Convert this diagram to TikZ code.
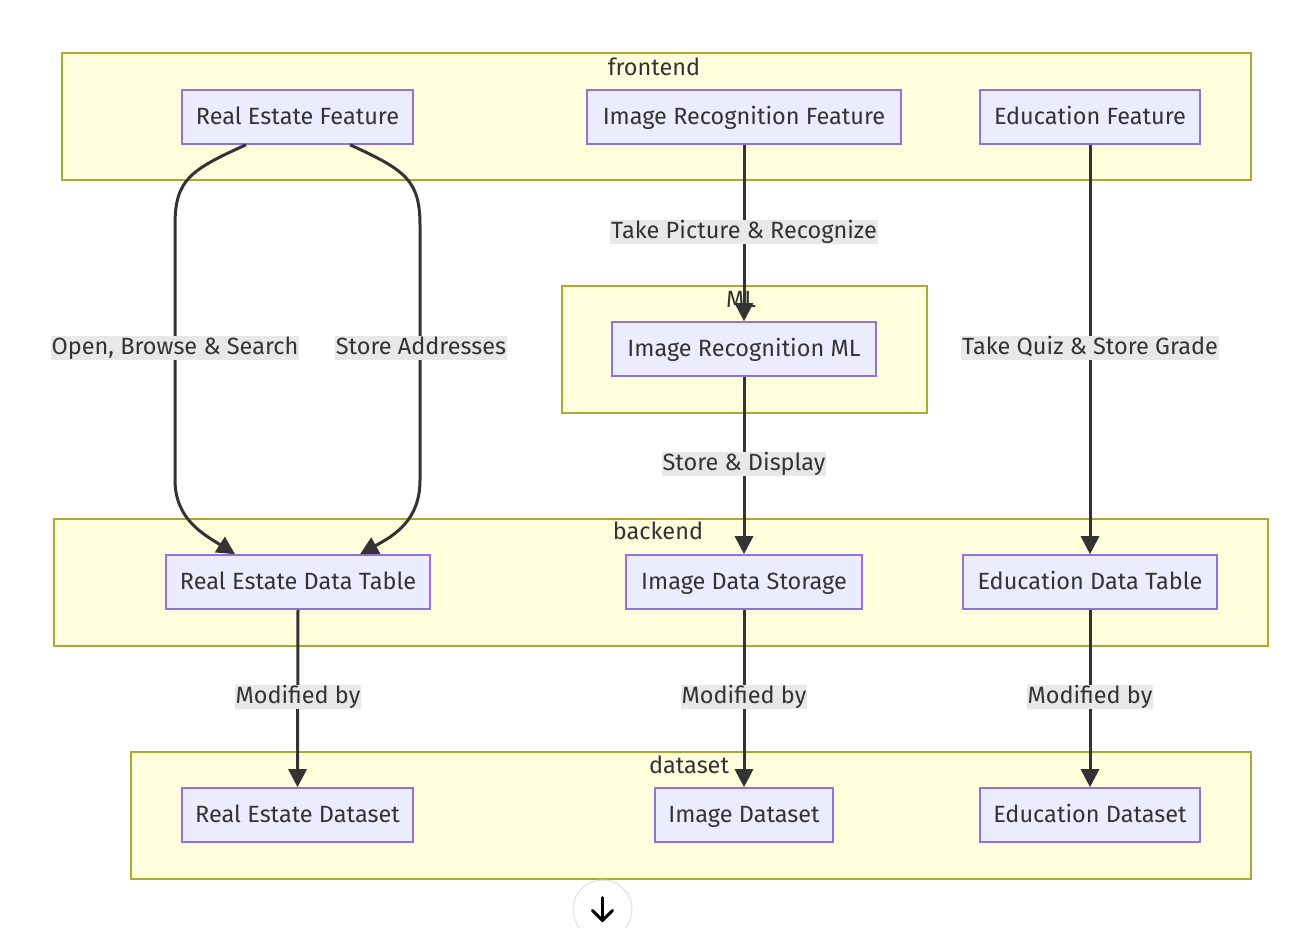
\documentclass[tikz,border=0pt]{standalone}
\usepackage{fontspec}
\setmainfont{Fira Sans}
\usetikzlibrary{arrows.meta,calc}
\definecolor{clfill}{HTML}{FFFFDE}
\definecolor{clline}{HTML}{AAAA33}
\definecolor{ndfill}{HTML}{ECECFF}
\definecolor{ndline}{HTML}{9370DB}
\definecolor{txt}{HTML}{333333}
\definecolor{lbbg}{HTML}{E8E8E8}
\tikzset{
  x=1pt, y=-1pt,
  fnt/.style={font=\fontsize{23.5}{27}\selectfont},
  cluster/.style={draw=clline, fill=clfill, line width=1.6pt},
  clabel/.style={text=txt, fnt, inner sep=0pt, text height=18pt, text depth=3pt},
  box/.style={draw=ndline, fill=ndfill, line width=1.6pt, text=txt, fnt, minimum height=54pt, inner sep=0pt, text height=18pt, text depth=3pt},
  elabel/.style={fill=lbbg, text=txt, fnt, inner xsep=1pt, inner ysep=0pt, text height=18pt, text depth=6pt},
  edge/.style={draw=txt, line width=3pt, -{Triangle[length=18pt,width=18pt]}},
}
\begin{document}
\begin{tikzpicture}
\useasboundingbox (0,0) rectangle (1300,928);
% clusters
\draw[cluster] (62,53) rectangle (1251,180);
\node[clabel] (cfront) at (654,68) {frontend};
\draw[cluster] (562,286) rectangle (927,413);
\node[clabel] (cml) at (741,300) {ML};
\draw[cluster] (54,519) rectangle (1268,646);
\node[clabel] (cback) at (658,532) {backend};
\draw[cluster] (131,752) rectangle (1251,879);
\node[clabel] (cdata) at (689,766) {dataset};
% nodes
\node[box, minimum width=231pt] (ref) at (297.5,117) {Real Estate Feature};
\node[box, minimum width=314pt] (irf) at (744,117) {Image Recognition Feature};
\node[box, minimum width=220pt] (edf) at (1090,117) {Education Feature};
\node[box, minimum width=264pt] (irml) at (744,349) {Image Recognition ML};
\node[box, minimum width=264pt] (redt) at (298,582) {Real Estate Data Table};
\node[box, minimum width=236pt] (ids) at (744,582) {Image Data Storage};
\node[box, minimum width=254pt] (eddt) at (1090,582) {Education Data Table};
\node[box, minimum width=231pt] (reds) at (297.5,815) {Real Estate Dataset};
\node[box, minimum width=178pt] (imds) at (744,815) {Image Dataset};
\node[box, minimum width=220pt] (edds) at (1090,815) {Education Dataset};
% edges
\draw[edge] ([xshift=-51.5pt]ref.south) .. controls (190,170) and (175,180) .. (175,225)
  -- (175,480) .. controls (175,520) and (205,535) .. ([xshift=-63pt]redt.north);
\draw[edge] ([xshift=52.5pt]ref.south) .. controls (405,170) and (420,180) .. (420,225)
  -- (420,480) .. controls (420,520) and (395,535) .. ([xshift=62pt]redt.north);
\draw[edge] (irf.south) -- (irml.north);
\draw[edge] (irml.south) -- (ids.north);
\draw[edge] (edf.south) -- (eddt.north);
\draw[edge] (redt.south) -- (reds.north);
\draw[edge] (ids.south) -- (imds.north);
\draw[edge] (eddt.south) -- (edds.north);
% edge labels
\node[elabel] (l1) at (175,348) {Open, Browse \& Search};
\node[elabel] (l2) at (421,348) {Store Addresses};
\node[elabel] (l3) at (744,232) {Take Picture \& Recognize};
\node[elabel] (l4) at (744,464) {Store \& Display};
\node[elabel] (l5) at (1090,348) {Take Quiz \& Store Grade};
\node[elabel] (l6) at (298,697) {Modified by};
\node[elabel] (l7) at (744,697) {Modified by};
\node[elabel] (l8) at (1090,697) {Modified by};
% scroll button
\node[circle, draw=black!12, fill=white, line width=1pt, minimum size=59pt, inner sep=0pt] (btn) at (602.5,909.5) {};
\draw[line width=3pt, line cap=round, line join=round] ([yshift=12pt]btn.center) -- ([yshift=-11pt]btn.center);
\draw[line width=3pt, line cap=round, line join=round] ([xshift=-10pt,yshift=-1pt]btn.center) -- ([yshift=-11pt]btn.center) -- ([xshift=10pt,yshift=-1pt]btn.center);
\end{tikzpicture}
\end{document}
